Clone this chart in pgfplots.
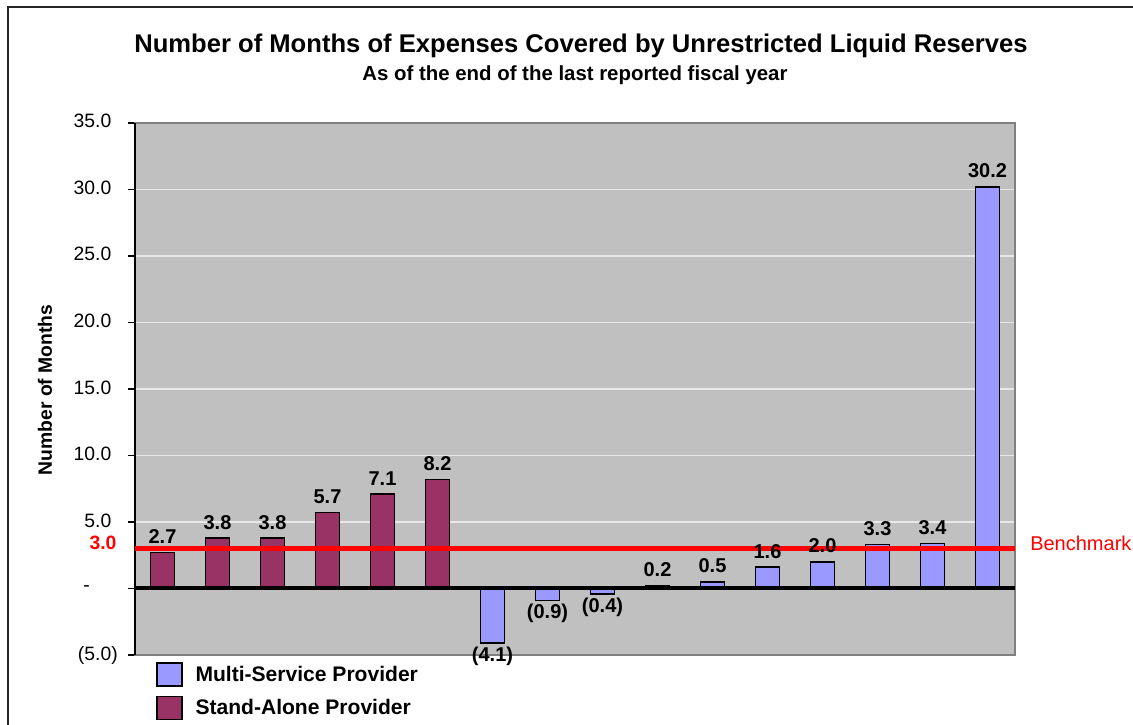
\documentclass[border=0pt]{standalone}
\usepackage{fontspec}
\setmainfont{Liberation Sans}
\usepackage{pgfplots}
\pgfplotsset{compat=1.18}
\definecolor{maroonbar}{RGB}{153,51,102}
\definecolor{lavbar}{RGB}{153,153,255}
\definecolor{plotbg}{RGB}{192,192,192}
\definecolor{gridc}{RGB}{232,232,232}
\definecolor{bordc}{RGB}{128,128,128}
\begin{document}
\begin{tikzpicture}
\useasboundingbox (0,0) rectangle (849.75pt,543.75pt);
\draw[line width=1.1pt, black!85] (6pt,-2pt) -- (6pt,538.5pt) -- (852pt,538.5pt);
\node[font=\fontsize{19.2}{21}\selectfont\bfseries] at (435.75pt,509.25pt) {Number of Months of Expenses Covered by Unrestricted Liquid Reserves};
\node[font=\fontsize{15.3}{17}\selectfont\bfseries] at (431.25pt,487.5pt) {As of the end of the last reported fiscal year};
\node[font=\fontsize{14.5}{16}\selectfont\bfseries, rotate=90] at (33.75pt,251.25pt) {Number of Months};
\begin{axis}[
  at={(101.25pt,52.5pt)}, anchor=south west,
  scale only axis, width=660pt, height=399pt,
  xmin=-0.5, xmax=15.5, ymin=-5, ymax=35,
  clip=false,
  xtick=\empty,
  ytick={-5,0,5,10,15,20,25,30,35},
  yticklabels={(5.0), {-\kern21pt}, 5.0\phantom{)}, 10.0\phantom{)}, 15.0\phantom{)}, 20.0\phantom{)}, 25.0\phantom{)}, 30.0\phantom{)}, 35.0\phantom{)}},
  yticklabel style={font=\fontsize{14.5}{16}\selectfont, inner sep=0pt, anchor=east, xshift=-7.5pt},
  ytick pos=left,
  tick align=outside,
  major tick length=5.25pt,
  tick style={black, line width=0.8pt},
  ymajorgrids,
  major grid style={gridc, line width=0.8pt},
  axis line style={bordc, line width=1.2pt},
  axis background/.style={fill=plotbg},
  legend style={at={(axis description cs:0.019,-0.008)}, anchor=north west, draw=none, fill=none,
    font=\fontsize{15.8}{17}\selectfont\bfseries, row sep=6.75pt, nodes={inner sep=0pt}},
  legend cell align=left,
  legend image code/.code={\draw[#1, draw=black, line width=1.2pt] (0pt,-8.6pt) rectangle (18.75pt,8.6pt); \path (28.5pt,0pt);},
  every node near coord/.style={font=\fontsize{15}{16}\selectfont\bfseries, text=black, inner sep=0pt},
]
\draw[black, line width=0.9pt] (rel axis cs:0,0) -- (rel axis cs:0,1);
% Multi-Service Provider, positive values
\addplot[ybar, bar width=0.44, bar shift=0pt, fill=lavbar, draw=black, line width=1.1pt,
  point meta=explicit symbolic, nodes near coords,
  every node near coord/.append style={anchor=south, yshift=6pt}]
  table[meta=label] {
x y label
9 0.2 0.2
10 0.5 0.5
11 1.6 1.6
12 2.0 2.0
13 3.3 3.3
14 3.4 3.4
15 30.2 30.2
};
\addlegendentry{Multi-Service Provider}
\addplot[ybar, bar width=0.44, bar shift=0pt, fill=maroonbar, draw=black, line width=1.1pt,
  point meta=explicit symbolic, nodes near coords,
  every node near coord/.append style={anchor=south, yshift=6pt}]
  table[meta=label] {
x y label
0 2.7 2.7
1 3.8 3.8
2 3.8 3.8
3 5.7 5.7
4 7.1 7.1
5 8.2 8.2
};
\addlegendentry{Stand-Alone Provider}
% Multi-Service Provider, negative values
\addplot[ybar, bar width=0.44, bar shift=0pt, fill=lavbar, draw=black, line width=1.1pt, forget plot,
  point meta=explicit symbolic, nodes near coords,
  every node near coord/.append style={anchor=north, yshift=-2.25pt}]
  table[meta=label] {
x y label
6 -4.1 (4.1)
7 -0.9 (0.9)
8 -0.4 (0.4)
};
\addplot[black, line width=3pt, forget plot] coordinates {(-0.5,0) (15.5,0)};
\addplot[red, line width=3.3pt, forget plot] coordinates {(-0.5,3) (15.5,3)};
\end{axis}
\node[fill=white, inner xsep=1pt, inner ysep=6pt, text=red, font=\fontsize{14.5}{16}\selectfont\bfseries, anchor=east] at (88.5pt,136.5pt) {3.0};
\node[text=red, font=\fontsize{15}{17}\selectfont, anchor=west, inner sep=0pt] at (772.5pt,136.5pt) {Benchmark};
\end{tikzpicture}
\end{document}
